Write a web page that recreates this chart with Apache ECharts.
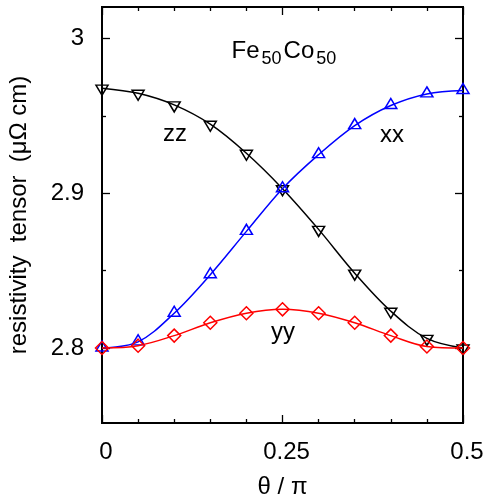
<!DOCTYPE html>
<html>
<head>
<meta charset="utf-8">
<script src="https://cdn.jsdelivr.net/npm/echarts@6/dist/echarts.min.js"></script>
<style>
  html, body { margin: 0; padding: 0; background: #fff; }
  #chart { width: 488px; height: 496px; }
</style>
</head>
<body>
<div id="chart"></div>
<script>
// Angle of magnetisation, in units of pi
const theta = [0, 0.05, 0.1, 0.15, 0.2, 0.25, 0.3, 0.35, 0.4, 0.45, 0.5];
// Diagonal components of the resistivity tensor (μΩ cm)
const rhoXX = [2.800, 2.804, 2.8225, 2.8474, 2.8754, 2.903, 2.925, 2.9438, 2.9568, 2.9643, 2.9665];
const rhoYY = [2.800, 2.8015, 2.808, 2.8163, 2.8225, 2.825, 2.8225, 2.8163, 2.808, 2.801, 2.800];
const rhoZZ = [2.968, 2.9647, 2.9572, 2.9447, 2.9259, 2.903, 2.8767, 2.8484, 2.8238, 2.8062, 2.800];
// Labelled (major) and unlabelled (minor) ticks
const xTickLabels = [0, 0.25, 0.5];
const yTickLabels = [2.8, 2.9, 3];
const yMinorTicks = [2.85, 2.95];

const FONT = '"Liberation Sans", Arial, Helvetica, sans-serif';
const tickLine = { color: '#000', width: 1.3 };

const chart = echarts.init(document.getElementById('chart'), null, { renderer: 'canvas' });

function pairs(ys) { return theta.map((t, i) => [t, ys[i]]); }

function curve(name, ys, color, symbol, rotate, size, offset, z) {
  return {
    name, type: 'line', data: pairs(ys),
    smooth: 0.35, clip: false, z,
    symbol, symbolRotate: rotate, symbolSize: size, symbolOffset: offset,
    showAllSymbol: true,
    lineStyle: { color, width: 1.5 },
    itemStyle: { color: 'rgba(0,0,0,0)', borderColor: color, borderWidth: 1.5 },
    emphasis: { disabled: true }
  };
}

const xBase = {
  type: 'value', min: 0, max: 0.5, interval: 0.25,
  axisLine: { show: false }, splitLine: { show: false },
  axisTick: { show: true, inside: true, length: 8, lineStyle: tickLine },
  minorTick: { show: true, splitNumber: 5, length: 4, lineStyle: tickLine }
};
const yBase = {
  type: 'value', min: 2.7515, max: 3.0205,
  axisLine: { show: false }, splitLine: { show: false }
};
function yTicks(position, values, len) {
  return Object.assign({}, yBase, {
    position,
    axisTick: { show: true, inside: true, length: len, customValues: values, lineStyle: tickLine },
    axisLabel: { show: false }
  });
}

chart.setOption({
  animation: false,
  textStyle: { fontFamily: FONT },
  grid: {
    left: 102, top: 7, width: 361, height: 416,
    outerBoundsMode: 'none', containLabel: false,
    show: true, borderColor: '#000', borderWidth: 2, backgroundColor: 'transparent'
  },
  xAxis: [
    Object.assign({}, xBase, {
      position: 'bottom',
      name: 'θ / π', nameLocation: 'middle', nameGap: 52,
      nameTextStyle: { fontSize: 24, color: '#000', fontFamily: FONT },
      axisLabel: {
        customValues: xTickLabels, margin: 17, fontSize: 24, color: '#000',
        fontFamily: FONT, padding: [0, 0, 0, 8],
        formatter: v => String(v)
      }
    }),
    Object.assign({}, xBase, { position: 'top', axisLabel: { show: false } })
  ],
  yAxis: [
    Object.assign({}, yTicks('left', yTickLabels, 8), {
      name: 'resistivity  tensor  (μΩ cm)', nameLocation: 'middle', nameGap: 71,
      nameTextStyle: { fontSize: 24, color: '#000', fontFamily: FONT },
      axisLabel: { customValues: yTickLabels, margin: 18, fontSize: 24, color: '#000', fontFamily: FONT,
                   formatter: v => String(v) }
    }),
    yTicks('left', yMinorTicks, 4),
    yTicks('right', yTickLabels, 8),
    yTicks('right', yMinorTicks, 4)
  ],
  series: [
    curve('zz', rhoZZ, '#000000', 'triangle', 180, [12, 10], [0, 2], 3),
    curve('xx', rhoXX, '#0000ff', 'triangle', 0, [12, 10], [0, -2], 4),
    curve('yy', rhoYY, '#ff0000', 'diamond', 0, [13, 13], [0, 0], 5)
  ]
});

// Text annotations anchored in data coordinates
const toPx = p => chart.convertToPixel({ seriesIndex: 0 }, p);
const notes = [
  { text: 'zz', at: [0.101, 2.9382] },
  { text: 'xx', at: [0.4015, 2.9375] },
  { text: 'yy', at: [0.2508, 2.8100] }
];

const measureCtx = document.createElement('canvas').getContext('2d');
function textWidth(str, size) {
  measureCtx.font = size + 'px ' + FONT;
  return measureCtx.measureText(str).width;
}

// Alloy composition label with subscripts (drop = baseline shift)
const formula = [
  { s: 'Fe', size: 24, drop: 0 },
  { s: '50', size: 18, drop: 6 },
  { s: 'Co', size: 24, drop: 0 },
  { s: '50', size: 18, drop: 6 }
];
const gap = 2;
const formulaAt = toPx([0.252, 2.9855]); // centre x, baseline y
const total = formula.reduce((w, p) => w + textWidth(p.s, p.size), 0) + gap * (formula.length - 1);
let cursor = formulaAt[0] - total / 2;
const formulaEls = formula.map(p => {
  const el = {
    type: 'text', x: cursor, y: formulaAt[1] + p.drop - 0.35 * p.size - 1.5, z: 10,
    style: { text: p.s, font: p.size + 'px ' + FONT, fill: '#000',
             textAlign: 'left', textVerticalAlign: 'middle' }
  };
  cursor += textWidth(p.s, p.size) + gap;
  return el;
});

chart.setOption({
  graphic: notes.map(n => {
    const p = toPx(n.at);
    return {
      type: 'text', x: p[0], y: p[1], z: 10,
      style: { text: n.text, font: '24px ' + FONT, fill: '#000',
               textAlign: 'center', textVerticalAlign: 'middle' }
    };
  }).concat(formulaEls)
});
</script>
</body>
</html>
